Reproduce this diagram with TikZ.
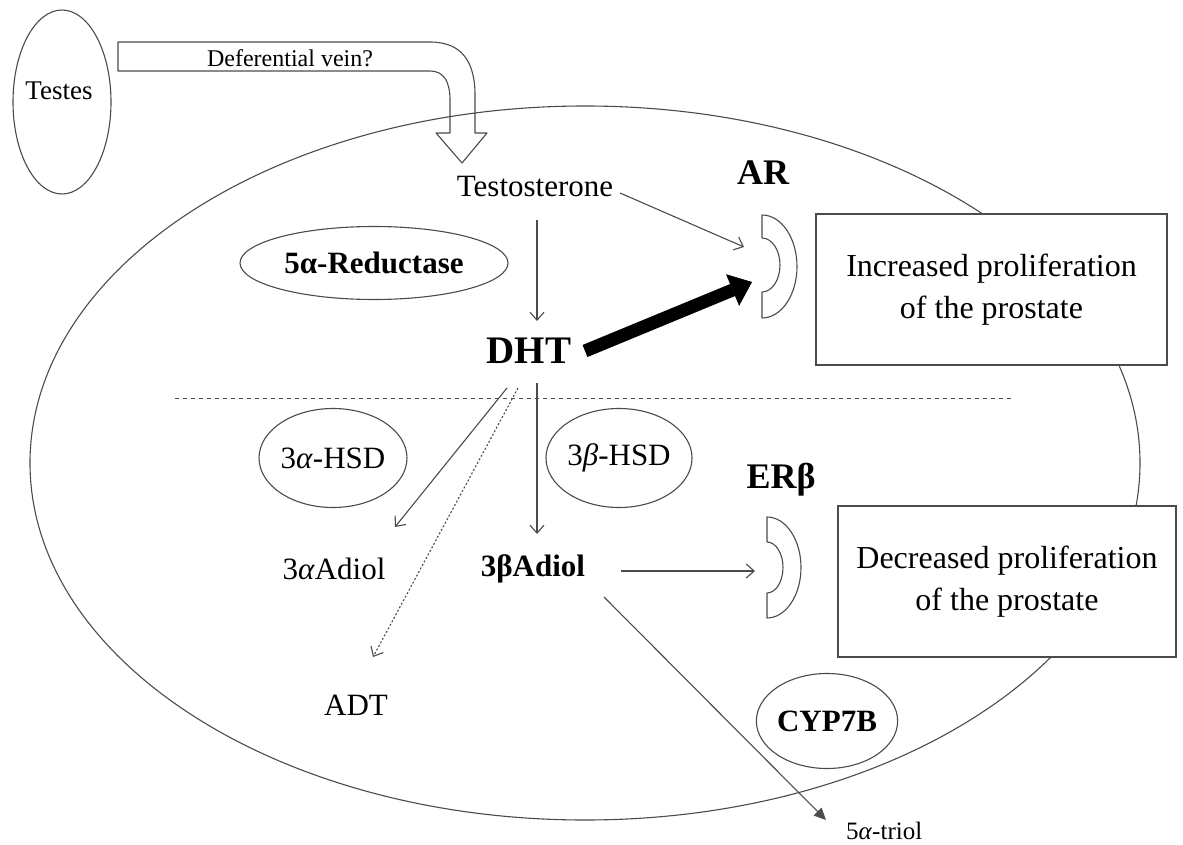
\documentclass[tikz,border=0pt]{standalone}
\usepackage{fontspec}
\setmainfont{Liberation Serif}
\usetikzlibrary{arrows.meta,shapes.geometric}
\definecolor{ln}{RGB}{75,75,75}
\begin{document}
\begin{tikzpicture}[x=1pt,y=-1pt,
  every node/.style={font=\fontsize{31}{36}\selectfont, inner sep=0pt},
  txt/.style={font=\fontsize{31}{36}\selectfont},
  btxt/.style={font=\fontsize{31}{36}\selectfont\bfseries},
  ln/.style={draw=ln, line width=1.1pt},
  enz/.style={ellipse, draw=ln, line width=1.1pt},
  box/.style={rectangle, draw=ln, line width=1.4pt, fill=white, align=center,
     font=\fontsize{32}{44}\selectfont},
  arr/.style={draw=ln, line width=1.1pt, -{Straight Barb[length=8pt,width=14pt]}},
  dotarr/.style={arr, dash pattern=on 2pt off 2pt},
  filarr/.style={draw=ln, line width=1.1pt, -{Triangle[length=12pt,width=11pt]}},
  bigarr/.style={draw=black, line width=13pt, -{Triangle[length=21pt,width=34pt,line width=0.5pt]}}
]
\useasboundingbox (0,0) rectangle (1183,845);

% cell outline
\draw[ln] (585,463) ellipse [x radius=555, y radius=357];

% testes
\node[enz, minimum width=98pt, minimum height=184pt] (testes) at (62,102) {};
\node[font=\fontsize{27}{30}\selectfont] (testesT) at (59,91) {Testes};

% deferential vein block arrow
\draw[ln, line join=round] (118,42) -- (430,42) .. controls (462,42) and (475,62) .. (475,95)
  -- (475,133) -- (487,133) -- (462,163) -- (436,133) -- (450,133) -- (450,100)
  .. controls (450,82) and (444,71) .. (430,71) -- (118,71) -- cycle;
\node[font=\fontsize{24}{26}\selectfont] (vein) at (290,58) {Deferential vein?};

% upper part
\node[txt] (testo) at (535,187) {Testosterone};
\node[font=\fontsize{36}{40}\selectfont\bfseries] (ART) at (763,173) {AR};
\node[enz, btxt, minimum width=268pt, minimum height=73pt] (red) at (374,263) {5α-Reductase};
\node[font=\fontsize{39}{42}\selectfont\bfseries] (dht) at (529,351) {DHT};

% AR receptor
\draw[ln, line join=round] (762,215) arc[start angle=-90,end angle=90,x radius=35,y radius=51.5]
  -- (762,292) arc[start angle=90,end angle=-90,x radius=18,y radius=27] -- cycle;

\node[box, minimum width=351pt, minimum height=151pt] (inc) at (991.5,289.5) {Increased proliferation\\[-2pt]of the prostate};

% divider
\draw[ln, line width=0.8pt, dash pattern=on 4pt off 4pt] (175,398) -- (1013,398);

% lower part
\node[enz, txt, minimum width=145pt, minimum height=99pt] (ahsd) at (333,458) {3\textit{α}-HSD};
\node[enz, txt, minimum width=126pt, minimum height=99pt] (bhsd) at (619,458) {3\textit{β}-HSD};
\node[txt] (aadiol) at (334,569) {3\textit{α}Adiol};
\node[btxt] (badiol) at (533,569) {3βAdiol};
\node[txt] (adt) at (356,705) {ADT};
\node[font=\fontsize{36}{40}\selectfont\bfseries] (ERT) at (781,480) {ERβ};

% ER beta receptor
\draw[ln, line join=round] (767,517) arc[start angle=-90,end angle=90,x radius=34,y radius=50.5]
  -- (767,593) arc[start angle=90,end angle=-90,x radius=16,y radius=25.5] -- cycle;

\node[box, minimum width=338pt, minimum height=151pt] (dec) at (1007,581.5) {Decreased proliferation\\[-2pt]of the prostate};

\node[enz, btxt, minimum width=141pt, minimum height=95pt] (cyp) at (827,721) {CYP7B};
\node[font=\fontsize{25}{28}\selectfont, anchor=base west] (triol) at (846,839) {5\textit{α}-triol};

% connector end points
\coordinate (testoOut) at (620,193);
\coordinate (arIn) at (744,247);
\coordinate (tdTop) at (537,220);
\coordinate (tdBot) at (537,321);
\coordinate (bigS) at (585,351);
\coordinate (bigE) at (752,282);
\coordinate (dA) at (507,388);
\coordinate (aIn) at (395,527);
\coordinate (dD) at (518,388);
\coordinate (adtIn) at (373,657);
\coordinate (dB) at (537,383);
\coordinate (bIn) at (537,534);
\coordinate (bOut) at (621,571);
\coordinate (erIn) at (755,571);
\coordinate (bOut2) at (604,597);
\coordinate (triolIn) at (826,820);

% connectors
\draw[arr] (testoOut) -- (arIn);
\draw[arr] (tdTop) -- (tdBot);
\draw[bigarr] (bigS) -- (bigE);
\draw[arr] (dA) -- (aIn);
\draw[dotarr] (dD) -- (adtIn);
\draw[arr] (dB) -- (bIn);
\draw[arr] (bOut) -- (erIn);
\draw[filarr] (bOut2) -- (triolIn);
\end{tikzpicture}
\end{document}
